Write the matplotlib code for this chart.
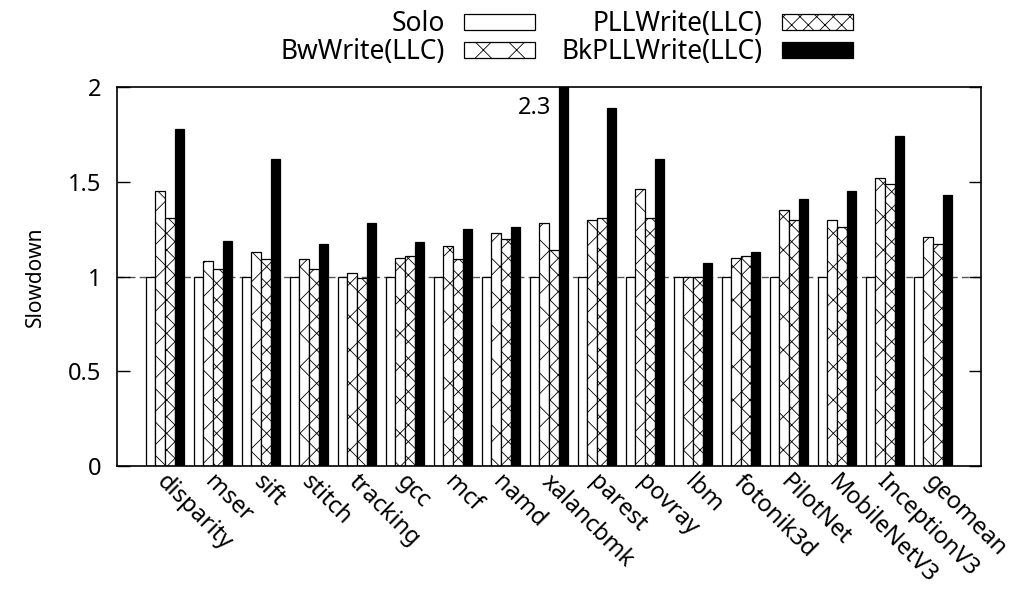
import numpy as np
import matplotlib.pyplot as plt
import matplotlib.transforms as mtransforms

# Benchmarks and slowdown values
benchmarks = ['disparity', 'mser', 'sift', 'stitch', 'tracking', 'gcc', 'mcf', 'namd',
              'xalancbmk', 'parest', 'povray', 'lbm', 'fotonik3d', 'PilotNet',
              'MobileNetV3', 'InceptionV3', 'geomean']
solo = [1, 1, 1, 1, 1, 1, 1, 1, 1, 1, 1, 1, 1, 1, 1, 1, 1]
bw_write = [1.45, 1.08, 1.13, 1.09, 1.02, 1.10, 1.16, 1.23, 1.28, 1.30, 1.46, 1.00, 1.10, 1.35, 1.30, 1.52, 1.21]
pll_write = [1.31, 1.04, 1.09, 1.04, 0.99, 1.11, 1.09, 1.20, 1.14, 1.31, 1.31, 1.00, 1.11, 1.30, 1.26, 1.49, 1.17]
bkpll_write = [1.78, 1.19, 1.62, 1.17, 1.28, 1.18, 1.25, 1.26, 2.3, 1.89, 1.62, 1.07, 1.13, 1.41, 1.45, 1.74, 1.43]

series = [solo, bw_write, pll_write, bkpll_write]
labels = ['Solo', 'BwWrite(LLC)', 'PLLWrite(LLC)', 'BkPLLWrite(LLC)']
colors = ['white', 'white', 'white', 'black']
hatches = ['', 'x', 'xx', '']

plt.rcParams['font.family'] = ['Noto Sans', 'DejaVu Sans']
plt.rcParams['hatch.linewidth'] = 0.6

fig = plt.figure(figsize=(10.14, 5.9), dpi=100)
ax = fig.add_axes([0.1154, 0.2102, 0.852, 0.6423])

x = np.arange(len(benchmarks))
w = 0.2

# Reference line at 1
ax.axhline(1, color='#555555', lw=1, ls=(0, (5, 3)), zorder=1)

for i, vals in enumerate(series):
    ax.bar(x + (i - 1.5) * w, vals, w, color=colors[i], edgecolor='black',
           hatch=hatches[i], linewidth=0.9, label=labels[i], zorder=2)

# Label the clipped bar
ymax = 2
for i, v in enumerate(bkpll_write):
    if v > ymax:
        ax.text(x[i] + w - 0.16, ymax - 0.11, f'{v:g}', ha='right', va='center',
                fontsize=17)

ax.set_xlim(-1, len(benchmarks))
ax.set_ylim(0, ymax)
ax.set_yticks([0, 0.5, 1, 1.5, 2])
ax.set_yticklabels(['0', '0.5', '1', '1.5', '2'])
ax.tick_params(axis='y', direction='in', length=9, width=1, labelsize=17,
               right=True, pad=11)
ax.set_ylabel('Slowdown', fontsize=15, labelpad=16)

ax.set_xticks(x)
ax.set_xticklabels(benchmarks, rotation=-45, ha='left', va='top',
                   rotation_mode='anchor', fontsize=17)
ax.tick_params(axis='x', length=0, pad=3)
offset = mtransforms.ScaledTranslation(0.04, 0, fig.dpi_scale_trans)
for lab in ax.get_xticklabels():
    lab.set_transform(lab.get_transform() + offset)

for s in ax.spines.values():
    s.set_linewidth(1.2)

ax.legend(loc='upper right', bbox_to_anchor=(866 / 1014, 1.005),
          bbox_transform=fig.transFigure, ncol=2, frameon=False,
          markerfirst=False, fontsize=19, handlelength=2.7, handleheight=0.6,
          handletextpad=0.72, columnspacing=1.0, labelspacing=0.0, borderpad=0.0)

plt.savefig('out.png', dpi=100)
